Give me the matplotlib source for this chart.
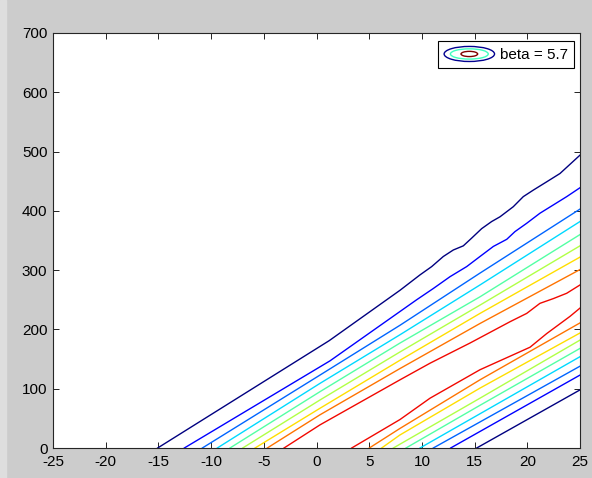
"""plot.py redraws the beta = 5.7 contour picture (two families of
contour lines, jet colours) and writes out.png.

"""
import matplotlib as mpl
mpl.use('Agg')
import numpy as np
import matplotlib.pyplot as plt
from matplotlib.patches import Ellipse, Rectangle
from matplotlib.legend_handler import HandlerBase
from matplotlib.lines import Line2D

# x ticks and y ticks
x_ticks = [-25, -20, -15, -10, -5, 0, 5, 10, 15, 20, 25]
y_ticks = [0, 100, 200, 300, 400, 500, 600, 700]
legend_label = 'beta = 5.7'

# Upper family of contour lines, level 0 (dark blue) ... level 8 (red)
upper_x = [
    [-15.07, 1.2, 7.92, 9.82, 10.93, 12.03, 12.98, 13.93, 14.72, 15.67,
     16.62, 17.41, 18.67, 19.62, 20.57, 21.84, 23.1, 25],
    [-12.54, 1.28, 9.5, 11.08, 12.67, 14.25, 15.51, 16.78, 18.05, 18.83,
     19.94, 21.2, 22.47, 23.74, 25],
    [-10.83, 0.33, 7.92, 15.51, 25],
    [-9.41, 0.33, 7.92, 15.51, 25],
    [-8.21, 0.33, 7.92, 15.51, 25],
    [-7.0, 0.33, 7.92, 15.51, 25],
    [-5.83, 0.33, 7.92, 15.51, 25],
    [-4.67, 0.33, 7.92, 15.51, 25],
    [-3.08, 0.33, 7.92, 10.77, 14.56, 18.36, 19.94, 21.2, 22.47, 23.74, 25],
]
upper_y = [
    [0, 181, 266, 292, 306, 323, 334, 341, 354, 370,
     382, 390, 407, 424, 435, 449, 463, 494],
    [0, 147, 250, 269, 289, 306, 323, 340, 352, 365,
     379, 396, 410, 424, 439],
    [0, 123, 207, 295, 403],
    [0, 109, 191, 275, 382],
    [0, 95, 177, 255, 360],
    [0, 81, 162, 241, 341],
    [0, 67, 148, 227, 322],
    [0, 56, 134, 210, 301],
    [0, 39, 115, 143, 177, 213, 227, 244, 252, 261, 275],
]

# Lower family, level 0 (dark blue) ... level 8 (red)
lower_x = [
    [15.2, 25],
    [12.73, 25],
    [11.08, 25],
    [9.82, 25],
    [8.49, 15.51, 25],
    [7.29, 15.51, 25],
    [6.18, 7.92, 15.51, 25],
    [5.01, 7.92, 15.51, 25],
    [3.34, 7.92, 10.77, 15.51, 20.26, 21.84, 24.05, 25],
]
lower_y = [
    [0, 98],
    [0, 123],
    [0, 138],
    [0, 154],
    [0, 72, 168],
    [0, 84, 182],
    [0, 22, 101, 194],
    [0, 33, 115, 211],
    [0, 48, 84, 132, 170, 193, 222, 236],
]


class ContourHandler(HandlerBase):
    """Legend icon: three nested ellipses like a small contour."""
    def create_artists(self, legend, orig_handle, xdescent, ydescent,
                       width, height, fontsize, trans):
        cx = 0.5 * width - xdescent
        cy = 0.5 * height - ydescent
        arts = []
        for fw, fh, col in [(1.0, 1.1, '#00008f'),
                            (0.75, 0.75, '#40ffbf'),
                            (0.33, 0.38, '#800000')]:
            e = Ellipse((cx, cy), width * fw, height * fh, fill=False,
                        edgecolor=col, lw=1.0, transform=trans)
            arts.append(e)
        return arts


def main():
    plt.rcParams['font.family'] = ['Liberation Sans', 'DejaVu Sans']
    plt.rcParams['axes.unicode_minus'] = False
    fig = plt.figure(figsize=(5.92, 4.78), dpi=100, facecolor='#cccccc')
    # lighter strip along the left edge
    fig.patches.append(Rectangle((0, 0), 6 / 592., 1, transform=fig.transFigure,
                                 color='#dedede', zorder=-1))
    ax = fig.add_axes([53 / 592., 30 / 478., 527 / 592., 415 / 478.])
    ax.set_facecolor('white')

    colors = plt.cm.jet(np.linspace(0, 0.9, 9))
    for i in range(9):
        ax.plot(upper_x[i], upper_y[i], color=colors[i], lw=1.0)
        ax.plot(lower_x[i], lower_y[i], color=colors[i], lw=1.0)

    ax.set_xlim(-25, 25)
    ax.set_ylim(0, 700)
    ax.set_xticks(x_ticks)
    ax.set_yticks(y_ticks)
    ax.tick_params(direction='in', top=True, right=True, length=4,
                   width=0.6, labelsize=11, pad=4, colors='black')
    ax.tick_params(axis='x', pad=5)
    for sp in ax.spines.values():
        sp.set_linewidth(0.8)
        sp.set_color('#262626')

    dummy = Line2D([], [])
    leg = ax.legend([dummy], [legend_label], loc='upper right',
                    bbox_to_anchor=(0.9886, 0.9807), borderaxespad=0,
                    fontsize=11, handlelength=3.3, handleheight=1.0,
                    handletextpad=0.35, borderpad=0.4, fancybox=False,
                    handler_map={Line2D: ContourHandler()})
    leg.get_frame().set_edgecolor('black')
    leg.get_frame().set_linewidth(0.8)
    leg.get_frame().set_alpha(1)

    fig.savefig('out.png', dpi=100, facecolor=fig.get_facecolor())
    return 0


if __name__ == "__main__":
    main()
